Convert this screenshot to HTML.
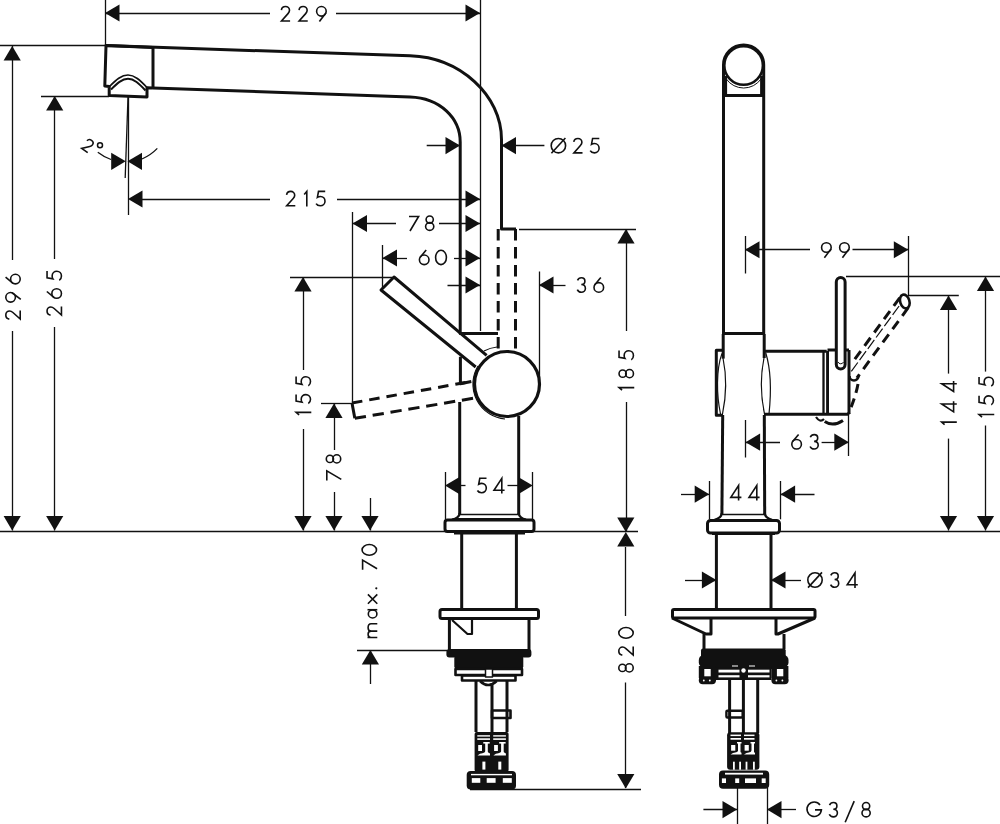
<!DOCTYPE html>
<html><head><meta charset="utf-8"><style>
html,body{margin:0;padding:0;background:#fff;}
svg{display:block;}
text{font-family:"Liberation Sans",sans-serif;}
</style></head><body>
<svg width="1000" height="824" viewBox="0 0 1000 824" stroke="#111" fill="none" stroke-linecap="butt" stroke-linejoin="round">
<rect x="0" y="0" width="1000" height="824" fill="#fff" stroke="none"/>
<line x1="105.5" y1="0" x2="105.5" y2="45.5" stroke-width="1.3"/>
<line x1="480.5" y1="0" x2="480.5" y2="331" stroke-width="1.3"/>
<line x1="105" y1="13.5" x2="270" y2="13.5" stroke-width="1.3"/>
<line x1="336" y1="13.5" x2="480" y2="13.5" stroke-width="1.3"/>
<polygon points="105.00,13.00 119.50,4.40 119.50,21.60" stroke="none" fill="#111"/>
<polygon points="480.00,13.00 465.50,4.40 465.50,21.60" stroke="none" fill="#111"/>
<g transform="translate(303.75,13.75) translate(-23.25,-8)" stroke="#111" stroke-width="1.60" fill="none" stroke-linecap="butt" stroke-linejoin="miter"><g transform="translate(0.00,0)"><path d="M0.9,4.3 C1.2,2.1 2.9,0.8 5.0,0.8 C7.3,0.8 9.0,2.5 9.0,4.6 C9.0,5.9 8.4,6.9 7.5,7.9 L1.0,15.2 L9.6,15.2"/></g><g transform="translate(17.65,0)"><path d="M0.9,4.3 C1.2,2.1 2.9,0.8 5.0,0.8 C7.3,0.8 9.0,2.5 9.0,4.6 C9.0,5.9 8.4,6.9 7.5,7.9 L1.0,15.2 L9.6,15.2"/></g><g transform="translate(35.30,0)"><circle cx="5.6" cy="5.6" r="4.8"/><path d="M10.2,7.0 L3.6,15.8"/></g></g>
<line x1="0" y1="45.5" x2="105" y2="45.5" stroke-width="1.3"/>
<line x1="12.5" y1="46" x2="12.5" y2="260" stroke-width="1.3"/>
<line x1="12.5" y1="331" x2="12.5" y2="530.5" stroke-width="1.3"/>
<polygon points="12.20,46.00 3.60,60.50 20.80,60.50" stroke="none" fill="#111"/>
<polygon points="12.20,530.50 3.60,516.00 20.80,516.00" stroke="none" fill="#111"/>
<g transform="translate(13.00,296.75) rotate(-90) translate(-23.25,-8)" stroke="#111" stroke-width="1.60" fill="none" stroke-linecap="butt" stroke-linejoin="miter"><g transform="translate(0.00,0)"><path d="M0.9,4.3 C1.2,2.1 2.9,0.8 5.0,0.8 C7.3,0.8 9.0,2.5 9.0,4.6 C9.0,5.9 8.4,6.9 7.5,7.9 L1.0,15.2 L9.6,15.2"/></g><g transform="translate(17.05,0)"><circle cx="5.6" cy="5.6" r="4.8"/><path d="M10.2,7.0 L3.6,15.8"/></g><g transform="translate(35.30,0)"><circle cx="5.6" cy="10.4" r="4.8"/><path d="M7.6,0.6 L1.4,8.0"/></g></g>
<line x1="41" y1="96.5" x2="109" y2="96.5" stroke-width="1.3"/>
<line x1="54.5" y1="96" x2="54.5" y2="259" stroke-width="1.3"/>
<line x1="54.5" y1="327" x2="54.5" y2="530.5" stroke-width="1.3"/>
<polygon points="54.70,96.00 46.10,110.50 63.30,110.50" stroke="none" fill="#111"/>
<polygon points="54.70,530.50 46.10,516.00 63.30,516.00" stroke="none" fill="#111"/>
<g transform="translate(54.25,293.25) rotate(-90) translate(-22.75,-8)" stroke="#111" stroke-width="1.60" fill="none" stroke-linecap="butt" stroke-linejoin="miter"><g transform="translate(0.00,0)"><path d="M0.9,4.3 C1.2,2.1 2.9,0.8 5.0,0.8 C7.3,0.8 9.0,2.5 9.0,4.6 C9.0,5.9 8.4,6.9 7.5,7.9 L1.0,15.2 L9.6,15.2"/></g><g transform="translate(16.90,0)"><circle cx="5.6" cy="10.4" r="4.8"/><path d="M7.6,0.6 L1.4,8.0"/></g><g transform="translate(35.00,0)"><path d="M9.9,0.8 L3.2,0.8 L2.1,6.7 C2.9,6.2 4.0,5.9 5.1,5.9 C7.9,5.9 9.7,8.0 9.7,10.6 C9.7,13.2 7.7,15.2 5.0,15.2 C3.1,15.2 1.6,14.4 0.8,13.0"/></g></g>
<line x1="0" y1="531.5" x2="638" y2="531.5" stroke-width="1.3"/>
<polyline points="153,47.5 106,45.6 104.8,86 109.2,86.5 109.2,95.5 147,97 147,87.8 153,88" stroke-width="3.0" fill="none" />
<path d="M106,45.6 L410,55.8 C460,57.5 501.5,95 501.5,139.5 L501.5,229 L516,229" stroke-width="3.0" fill="none" />
<path d="M153,88 L410,97 C440,98 460.2,118 460.2,142 L460.2,333.5 L498,333.5" stroke-width="3.0" fill="none" />
<line x1="153" y1="47.5" x2="153" y2="88" stroke-width="3.0"/>
<path d="M109.5,86.5 C116,80 121.5,75 128,75 C134.5,75 140,80 147,87.5" stroke-width="1.7" fill="none" />
<path d="M111,89.5 C117,83.5 122,78.8 128,78.8 C134,78.8 139,83.5 145.5,90.5" stroke-width="2.0" fill="none" />
<line x1="128.5" y1="97" x2="128.5" y2="215" stroke-width="1.3"/>
<line x1="128" y1="97" x2="125.2" y2="178" stroke-width="1.3"/>
<polygon points="125.70,161.30 111.20,152.70 111.20,169.90" stroke="none" fill="#111"/>
<polygon points="127.50,161.30 142.00,152.70 142.00,169.90" stroke="none" fill="#111"/>
<path d="M97.8,152.2 Q104,157 111,159.5" stroke-width="1.3" fill="none" />
<path d="M142,159 Q151,155 157.3,148.4" stroke-width="1.3" fill="none" />
<g transform="translate(88.00,145.30) rotate(35) scale(0.85) translate(-5.00,-8)" stroke="#111" stroke-width="1.88" fill="none" stroke-linecap="butt" stroke-linejoin="miter"><g transform="translate(0.00,0)"><path d="M0.9,4.3 C1.2,2.1 2.9,0.8 5.0,0.8 C7.3,0.8 9.0,2.5 9.0,4.6 C9.0,5.9 8.4,6.9 7.5,7.9 L1.0,15.2 L9.6,15.2"/></g></g>
<circle cx="100" cy="145.3" r="2.5" stroke-width="1.5" fill="none"/>
<line x1="142" y1="199.5" x2="270" y2="199.5" stroke-width="1.3"/>
<line x1="337" y1="199.5" x2="480" y2="199.5" stroke-width="1.3"/>
<polygon points="128.00,199.00 142.50,190.40 142.50,207.60" stroke="none" fill="#111"/>
<polygon points="480.00,199.00 465.50,190.40 465.50,207.60" stroke="none" fill="#111"/>
<g transform="translate(305.75,198.60) translate(-20.05,-8)" stroke="#111" stroke-width="1.60" fill="none" stroke-linecap="butt" stroke-linejoin="miter"><g transform="translate(0.00,0)"><path d="M0.9,4.3 C1.2,2.1 2.9,0.8 5.0,0.8 C7.3,0.8 9.0,2.5 9.0,4.6 C9.0,5.9 8.4,6.9 7.5,7.9 L1.0,15.2 L9.6,15.2"/></g><g transform="translate(17.70,0)"><path d="M0.8,3.8 L3.4,0.8 L3.4,16"/></g><g transform="translate(29.60,0)"><path d="M9.9,0.8 L3.2,0.8 L2.1,6.7 C2.9,6.2 4.0,5.9 5.1,5.9 C7.9,5.9 9.7,8.0 9.7,10.6 C9.7,13.2 7.7,15.2 5.0,15.2 C3.1,15.2 1.6,14.4 0.8,13.0"/></g></g>
<line x1="426.7" y1="145.5" x2="460" y2="145.5" stroke-width="1.3"/>
<polygon points="460.00,145.60 445.50,137.00 445.50,154.20" stroke="none" fill="#111"/>
<line x1="501.5" y1="145.5" x2="544.4" y2="145.5" stroke-width="1.3"/>
<polygon points="501.50,145.60 516.00,137.00 516.00,154.20" stroke="none" fill="#111"/>
<g transform="translate(575.15,145.65) translate(-24.75,-8)" stroke="#111" stroke-width="1.60" fill="none" stroke-linecap="butt" stroke-linejoin="miter"><g transform="translate(0.00,0)"><circle cx="8" cy="8" r="7.2"/><path d="M1.0,15.6 L15.0,0.4"/></g><g transform="translate(22.50,0)"><path d="M0.9,4.3 C1.2,2.1 2.9,0.8 5.0,0.8 C7.3,0.8 9.0,2.5 9.0,4.6 C9.0,5.9 8.4,6.9 7.5,7.9 L1.0,15.2 L9.6,15.2"/></g><g transform="translate(39.00,0)"><path d="M9.9,0.8 L3.2,0.8 L2.1,6.7 C2.9,6.2 4.0,5.9 5.1,5.9 C7.9,5.9 9.7,8.0 9.7,10.6 C9.7,13.2 7.7,15.2 5.0,15.2 C3.1,15.2 1.6,14.4 0.8,13.0"/></g></g>
<line x1="352.5" y1="212" x2="352.5" y2="403.5" stroke-width="1.3"/>
<line x1="352.5" y1="223.5" x2="396" y2="223.5" stroke-width="1.3"/>
<line x1="439" y1="223.5" x2="480" y2="223.5" stroke-width="1.3"/>
<polygon points="352.50,223.50 367.00,214.90 367.00,232.10" stroke="none" fill="#111"/>
<polygon points="480.00,223.50 465.50,214.90 465.50,232.10" stroke="none" fill="#111"/>
<g transform="translate(421.50,223.20) translate(-13.10,-8)" stroke="#111" stroke-width="1.60" fill="none" stroke-linecap="butt" stroke-linejoin="miter"><g transform="translate(0.00,0)"><path d="M0.6,1.3 L10.2,1.3 L1.6,15.8"/></g><g transform="translate(16.40,0)"><circle cx="4.9" cy="4.4" r="3.6"/><ellipse cx="4.9" cy="11.3" rx="4.1" ry="3.9"/></g></g>
<line x1="382.5" y1="245" x2="382.5" y2="288" stroke-width="1.3"/>
<line x1="382.5" y1="258.5" x2="407" y2="258.5" stroke-width="1.3"/>
<line x1="454" y1="258.5" x2="480" y2="258.5" stroke-width="1.3"/>
<polygon points="382.50,258.00 397.00,249.40 397.00,266.60" stroke="none" fill="#111"/>
<polygon points="480.00,258.00 465.50,249.40 465.50,266.60" stroke="none" fill="#111"/>
<g transform="translate(432.90,257.45) translate(-14.30,-8)" stroke="#111" stroke-width="1.60" fill="none" stroke-linecap="butt" stroke-linejoin="miter"><g transform="translate(0.00,0)"><circle cx="5.6" cy="10.4" r="4.8"/><path d="M7.6,0.6 L1.4,8.0"/></g><g transform="translate(16.20,0)"><ellipse cx="6.2" cy="8" rx="5.4" ry="7.2"/></g></g>
<line x1="447.5" y1="285.5" x2="480" y2="285.5" stroke-width="1.3"/>
<polygon points="480.00,285.00 465.50,276.40 465.50,293.60" stroke="none" fill="#111"/>
<line x1="539.5" y1="271.5" x2="539.5" y2="381" stroke-width="1.3"/>
<line x1="539" y1="285.5" x2="565.5" y2="285.5" stroke-width="1.3"/>
<polygon points="539.00,285.00 553.50,276.40 553.50,293.60" stroke="none" fill="#111"/>
<g transform="translate(590.50,285.00) translate(-13.90,-8)" stroke="#111" stroke-width="1.60" fill="none" stroke-linecap="butt" stroke-linejoin="miter"><g transform="translate(0.00,0)"><path d="M0.9,3.4 C1.6,1.8 3.0,0.8 4.8,0.8 C6.9,0.8 8.3,2.2 8.3,4.2 C8.3,6.2 6.8,7.5 4.7,7.5 C7.2,7.5 8.8,9.3 8.8,11.4 C8.8,13.6 7.0,15.2 4.7,15.2 C2.9,15.2 1.4,14.3 0.7,12.6"/></g><g transform="translate(16.60,0)"><circle cx="5.6" cy="10.4" r="4.8"/><path d="M7.6,0.6 L1.4,8.0"/></g></g>
<line x1="519" y1="229.5" x2="636" y2="229.5" stroke-width="1.3"/>
<line x1="626.5" y1="229" x2="626.5" y2="331" stroke-width="1.3"/>
<line x1="626.5" y1="402" x2="626.5" y2="531" stroke-width="1.3"/>
<polygon points="626.00,229.00 617.40,243.50 634.60,243.50" stroke="none" fill="#111"/>
<polygon points="625.80,532.00 617.20,517.50 634.40,517.50" stroke="none" fill="#111"/>
<g transform="translate(626.25,370.50) rotate(-90) translate(-20.50,-8)" stroke="#111" stroke-width="1.60" fill="none" stroke-linecap="butt" stroke-linejoin="miter"><g transform="translate(0.00,0)"><path d="M0.8,3.8 L3.4,0.8 L3.4,16"/></g><g transform="translate(12.45,0)"><circle cx="4.9" cy="4.4" r="3.6"/><ellipse cx="4.9" cy="11.3" rx="4.1" ry="3.9"/></g><g transform="translate(30.50,0)"><path d="M9.9,0.8 L3.2,0.8 L2.1,6.7 C2.9,6.2 4.0,5.9 5.1,5.9 C7.9,5.9 9.7,8.0 9.7,10.6 C9.7,13.2 7.7,15.2 5.0,15.2 C3.1,15.2 1.6,14.4 0.8,13.0"/></g></g>
<line x1="625.5" y1="547" x2="625.5" y2="616" stroke-width="1.3"/>
<line x1="625.5" y1="682.5" x2="625.5" y2="788" stroke-width="1.3"/>
<polygon points="625.80,532.00 617.20,546.50 634.40,546.50" stroke="none" fill="#111"/>
<polygon points="625.80,788.50 617.20,774.00 634.40,774.00" stroke="none" fill="#111"/>
<line x1="470" y1="789.5" x2="641" y2="789.5" stroke-width="1.3"/>
<g transform="translate(626.00,649.75) rotate(-90) translate(-23.05,-8)" stroke="#111" stroke-width="1.60" fill="none" stroke-linecap="butt" stroke-linejoin="miter"><g transform="translate(0.00,0)"><circle cx="4.9" cy="4.4" r="3.6"/><ellipse cx="4.9" cy="11.3" rx="4.1" ry="3.9"/></g><g transform="translate(16.75,0)"><path d="M0.9,4.3 C1.2,2.1 2.9,0.8 5.0,0.8 C7.3,0.8 9.0,2.5 9.0,4.6 C9.0,5.9 8.4,6.9 7.5,7.9 L1.0,15.2 L9.6,15.2"/></g><g transform="translate(33.70,0)"><ellipse cx="6.2" cy="8" rx="5.4" ry="7.2"/></g></g>
<line x1="290" y1="277.5" x2="392" y2="277.5" stroke-width="1.3"/>
<line x1="303.5" y1="277" x2="303.5" y2="370" stroke-width="1.3"/>
<line x1="303.5" y1="429" x2="303.5" y2="530.5" stroke-width="1.3"/>
<polygon points="303.00,277.00 294.40,291.50 311.60,291.50" stroke="none" fill="#111"/>
<polygon points="303.00,530.50 294.40,516.00 311.60,516.00" stroke="none" fill="#111"/>
<g transform="translate(303.30,395.90) rotate(-90) translate(-19.90,-8)" stroke="#111" stroke-width="1.60" fill="none" stroke-linecap="butt" stroke-linejoin="miter"><g transform="translate(0.00,0)"><path d="M0.8,3.8 L3.4,0.8 L3.4,16"/></g><g transform="translate(11.50,0)"><path d="M9.9,0.8 L3.2,0.8 L2.1,6.7 C2.9,6.2 4.0,5.9 5.1,5.9 C7.9,5.9 9.7,8.0 9.7,10.6 C9.7,13.2 7.7,15.2 5.0,15.2 C3.1,15.2 1.6,14.4 0.8,13.0"/></g><g transform="translate(29.30,0)"><path d="M9.9,0.8 L3.2,0.8 L2.1,6.7 C2.9,6.2 4.0,5.9 5.1,5.9 C7.9,5.9 9.7,8.0 9.7,10.6 C9.7,13.2 7.7,15.2 5.0,15.2 C3.1,15.2 1.6,14.4 0.8,13.0"/></g></g>
<line x1="321" y1="403.5" x2="352" y2="403.5" stroke-width="1.3"/>
<line x1="334.5" y1="403.6" x2="334.5" y2="450" stroke-width="1.3"/>
<line x1="334.5" y1="492" x2="334.5" y2="530.5" stroke-width="1.3"/>
<polygon points="334.00,403.60 325.40,418.10 342.60,418.10" stroke="none" fill="#111"/>
<polygon points="334.00,530.50 325.40,516.00 342.60,516.00" stroke="none" fill="#111"/>
<g transform="translate(333.50,467.50) rotate(-90) translate(-13.50,-8)" stroke="#111" stroke-width="1.60" fill="none" stroke-linecap="butt" stroke-linejoin="miter"><g transform="translate(0.00,0)"><path d="M0.6,1.3 L10.2,1.3 L1.6,15.8"/></g><g transform="translate(17.20,0)"><circle cx="4.9" cy="4.4" r="3.6"/><ellipse cx="4.9" cy="11.3" rx="4.1" ry="3.9"/></g></g>
<line x1="370.5" y1="498" x2="370.5" y2="530.5" stroke-width="1.3"/>
<polygon points="370.00,530.50 361.40,516.00 378.60,516.00" stroke="none" fill="#111"/>
<line x1="357" y1="650.5" x2="447" y2="650.5" stroke-width="1.3"/>
<line x1="370.5" y1="650" x2="370.5" y2="684" stroke-width="1.3"/>
<polygon points="370.40,650.00 361.80,664.50 379.00,664.50" stroke="none" fill="#111"/>
<g transform="translate(369.30,612.75) rotate(-90) translate(-25.55,-8)" stroke="#111" stroke-width="1.60" fill="none" stroke-linecap="butt" stroke-linejoin="miter"><g transform="translate(0.00,0)"><path d="M0.8,16 L0.8,6.2 M0.8,9.6 C0.8,7.5 2.1,6.8 4.0,6.8 C5.9,6.8 7.2,7.8 7.2,9.8 L7.2,16 M7.2,9.8 C7.2,7.5 8.6,6.8 10.6,6.8 C12.7,6.8 14.6,7.8 14.6,9.8 L14.6,16"/></g><g transform="translate(19.57,0)"><ellipse cx="4.8" cy="11.3" rx="4.0" ry="4.3"/><path d="M9.0,6.2 L9.0,16"/></g><g transform="translate(33.73,0)"><path d="M0.8,6.6 L10.2,16 M10.2,6.6 L0.8,16"/></g><g transform="translate(48.90,0)"><circle cx="1.1" cy="15" r="1.1" fill="#111" stroke="none"/></g></g>
<g transform="translate(369.30,557.00) rotate(-90) translate(-13.30,-8)" stroke="#111" stroke-width="1.60" fill="none" stroke-linecap="butt" stroke-linejoin="miter"><g transform="translate(0.00,0)"><path d="M0.6,1.3 L10.2,1.3 L1.6,15.8"/></g><g transform="translate(14.20,0)"><ellipse cx="6.2" cy="8" rx="5.4" ry="7.2"/></g></g>
<polyline points="486.6,355.3 394,277 381,290 475.7,367" stroke-width="3.0" fill="none" />
<polyline points="460.4,356.8 460.4,383.7 471.3,381.5" stroke-width="3.0" fill="none" />
<path d="M352,403 L472.4,381.2" stroke-width="3.0" fill="none" stroke-dasharray="10.5,7"/>
<path d="M352,403 L354.8,418.3" stroke-width="3.0" fill="none" />
<path d="M354.8,418.3 L475,398" stroke-width="3.0" fill="none" stroke-dasharray="11.3,6.8"/>
<circle cx="507" cy="384" r="32.5" stroke-width="3.2" fill="none"/>
<path d="M484,351 A35,35 0 0 1 497,347" stroke-width="1.2" fill="none" />
<path d="M478,366 A35,35 0 0 0 505,419" stroke-width="1.2" fill="none" />
<path d="M498.2,229 L498.2,350.5" stroke-width="3.0" fill="none" stroke-dasharray="11.4,6.6"/>
<path d="M515.5,229 L515.5,350.5" stroke-width="3.0" fill="none" stroke-dasharray="11.4,6.6"/>
<line x1="459.7" y1="402" x2="459.7" y2="514" stroke-width="3.0"/>
<line x1="518.7" y1="416" x2="518.7" y2="514" stroke-width="3.0"/>
<line x1="445.5" y1="472" x2="445.5" y2="519" stroke-width="1.3"/>
<line x1="532.5" y1="472" x2="532.5" y2="519" stroke-width="1.3"/>
<polygon points="445.00,485.60 459.50,477.00 459.50,494.20" stroke="none" fill="#111"/>
<polygon points="532.70,485.60 518.20,477.00 518.20,494.20" stroke="none" fill="#111"/>
<line x1="460" y1="485.5" x2="465.5" y2="485.5" stroke-width="1.3"/>
<line x1="507.5" y1="485.5" x2="519" y2="485.5" stroke-width="1.3"/>
<g transform="translate(490.70,485.50) translate(-14.10,-8)" stroke="#111" stroke-width="1.60" fill="none" stroke-linecap="butt" stroke-linejoin="miter"><g transform="translate(0.00,0)"><path d="M9.9,0.8 L3.2,0.8 L2.1,6.7 C2.9,6.2 4.0,5.9 5.1,5.9 C7.9,5.9 9.7,8.0 9.7,10.6 C9.7,13.2 7.7,15.2 5.0,15.2 C3.1,15.2 1.6,14.4 0.8,13.0"/></g><g transform="translate(16.60,0)"><path d="M8.6,16 L8.6,0.9 L0.8,12.8 L11.4,12.8"/></g></g>
<line x1="460" y1="514.5" x2="519" y2="514.5" stroke-width="1.3"/>
<path d="M459.7,513 Q459.2,518 452,519.6" stroke-width="2.4" fill="none" />
<path d="M518.7,513 Q519.2,518 526,519.6" stroke-width="2.4" fill="none" />
<path d="M455,519.5 L522,519.5" stroke-width="3.0" fill="none" />
<rect x="445" y="520" width="89" height="11.5" rx="2.5" stroke-width="3" fill="none"/>
<path d="M454,533 L525,533" stroke-width="3.0" fill="none" />
<line x1="461.7" y1="533" x2="461.7" y2="608" stroke-width="3.0"/>
<line x1="516.4" y1="533" x2="516.4" y2="608" stroke-width="3.0"/>
<rect x="440" y="609.5" width="98.5" height="9" rx="2" stroke-width="3" fill="none"/>
<polyline points="449.4,618 449.4,650" stroke-width="3.0" fill="none" />
<polyline points="529,618 529,650" stroke-width="3.0" fill="none" />
<polyline points="452,620 467.5,634 472,634 472,619.5" stroke-width="2.2" fill="none" />
<rect x="446.4" y="649" width="85" height="8.5" rx="3" fill="#111" stroke="none"/>
<rect x="454.3" y="656" width="69" height="12.5" rx="2" fill="#111" stroke="none"/>
<rect x="455.5" y="669" width="66.5" height="6" stroke-width="2.6" fill="none"/>
<rect x="462" y="675.5" width="53.5" height="5" stroke-width="2.6" fill="none"/>
<rect x="485.5" y="669" width="7" height="8" fill="#fff" stroke="#111" stroke-width="1.5"/>
<path d="M480,681 Q488,689 496.7,681" stroke-width="2.6" fill="none" />
<line x1="476" y1="681" x2="476" y2="732" stroke-width="3.0"/>
<line x1="492" y1="683" x2="492" y2="732" stroke-width="3.0"/>
<line x1="507" y1="681" x2="507" y2="732" stroke-width="3.0"/>
<rect x="492" y="710.5" width="18.5" height="7.5" stroke-width="2.6" fill="none"/>
<rect x="474.6" y="732" width="34" height="40" rx="2" fill="#111" stroke="none"/>
<rect x="477.30" y="735.2" width="12.7" height="1.4" fill="#fff" stroke="none"/>
<rect x="477.30" y="738.3" width="12.7" height="1.6" fill="#fff" stroke="none"/>
<rect x="478.20" y="745" width="3.8" height="6" fill="#fff" stroke="none"/>
<rect x="483.30" y="742" width="6.4" height="1.6" fill="#fff" stroke="none"/>
<rect x="485.20" y="742" width="2.6" height="13" fill="#fff" stroke="none"/>
<path d="M477.50,755.5 L490.00,755.5 L490.00,753.6 Q487.00,753 486.50,750 Q485.50,753 480.00,753.8 Z" fill="#fff" stroke="none"/>
<rect x="482.40" y="761.6" width="3" height="8" fill="#fff" stroke="none"/>
<rect x="493.20" y="735.2" width="12.7" height="1.4" fill="#fff" stroke="none"/>
<rect x="493.20" y="738.3" width="12.7" height="1.6" fill="#fff" stroke="none"/>
<rect x="494.10" y="745" width="3.8" height="6" fill="#fff" stroke="none"/>
<rect x="499.20" y="742" width="6.4" height="1.6" fill="#fff" stroke="none"/>
<rect x="501.10" y="742" width="2.6" height="13" fill="#fff" stroke="none"/>
<path d="M493.40,755.5 L505.90,755.5 L505.90,753.6 Q502.90,753 502.40,750 Q501.40,753 495.90,753.8 Z" fill="#fff" stroke="none"/>
<rect x="498.30" y="761.6" width="3" height="8" fill="#fff" stroke="none"/>
<rect x="466.7" y="771" width="49.3" height="18.6" rx="4" fill="#111" stroke="none"/>
<rect x="471" y="773.9" width="41" height="1.4" fill="#fff" stroke="none"/>
<rect x="471.8" y="778.1" width="8.5" height="4.7" fill="#fff" stroke="none"/>
<rect x="486.7" y="778.1" width="8.9" height="4.7" fill="#fff" stroke="none"/>
<rect x="502.8" y="778.1" width="9" height="4.7" fill="#fff" stroke="none"/>
<path d="M723.5,334 L723.5,65 A20.1,20.1 0 0 1 763.7,65 L763.7,334" stroke-width="3" fill="none"/>
<circle cx="743.6" cy="65.5" r="19.3" stroke-width="2.6" fill="none"/>
<path d="M726.3,79 A21.2,21.2 0 0 0 761,79" stroke-width="1.0" fill="none" />
<line x1="724.8" y1="76" x2="724.8" y2="95" stroke-width="4.6"/>
<line x1="762.4" y1="76" x2="762.4" y2="95" stroke-width="4.6"/>
<line x1="724" y1="95.5" x2="763" y2="95.5" stroke-width="3.0"/>
<line x1="724" y1="333.5" x2="763" y2="333.5" stroke-width="3.0"/>
<line x1="723.2" y1="334" x2="723.2" y2="358.6" stroke-width="3.0"/>
<line x1="764.2" y1="334" x2="764.2" y2="358" stroke-width="3.0"/>
<path d="M722,353.4 C716,370 716.5,395 720.5,414" stroke-width="1.2" fill="none" />
<path d="M723,358 C726.5,375 726.5,395 722.5,414" stroke-width="1.2" fill="none" />
<path d="M764,358 C760.5,375 760.5,395 764.5,414" stroke-width="1.2" fill="none" />
<path d="M765.8,353 C771,370 771,395 769,414" stroke-width="1.2" fill="none" />
<polyline points="723,350.3 716.3,350.3 716.3,415.3 723,415.3" stroke-width="3.0" fill="none" />
<line x1="764" y1="351.3" x2="826.7" y2="351.3" stroke-width="3.0"/>
<line x1="764" y1="414.2" x2="848" y2="414.2" stroke-width="3.0"/>
<line x1="823.5" y1="351" x2="823.5" y2="414" stroke-width="2.3"/>
<line x1="826.5" y1="351" x2="826.5" y2="414" stroke-width="0.9"/>
<line x1="828" y1="351" x2="828" y2="414" stroke-width="2.0"/>
<line x1="827.5" y1="350" x2="849" y2="350" stroke-width="3.0"/>
<line x1="849" y1="350" x2="849" y2="414" stroke-width="3.0"/>
<line x1="722.7" y1="415" x2="721.9" y2="515" stroke-width="3.0"/>
<line x1="764.3" y1="415" x2="764.7" y2="515" stroke-width="3.0"/>
<line x1="723" y1="514.5" x2="764" y2="514.5" stroke-width="1.3"/>
<path d="M721.9,513 Q721.5,518 714.5,519.8" stroke-width="2.4" fill="none" />
<path d="M764.7,513 Q765.1,518 772,519.8" stroke-width="2.4" fill="none" />
<rect x="707.5" y="520.5" width="72" height="12.5" rx="3" stroke-width="3" fill="none"/>
<path d="M712,533.8 L775,533.8" stroke-width="2.2" fill="none" />
<line x1="780" y1="531.5" x2="1000" y2="531.5" stroke-width="1.3"/>
<line x1="716.4" y1="534" x2="716.4" y2="609" stroke-width="3.0"/>
<line x1="771" y1="534" x2="771" y2="609" stroke-width="3.0"/>
<rect x="672.5" y="609.5" width="142.5" height="8.5" rx="1.5" stroke-width="3" fill="none"/>
<polyline points="672,618 706,634 711,634 711,618" stroke-width="3.0" fill="none" />
<polyline points="815,618 778,634 776,634 776,618" stroke-width="3.0" fill="none" />
<line x1="704" y1="634" x2="704" y2="649" stroke-width="3.0"/>
<line x1="784" y1="634" x2="784" y2="649" stroke-width="3.0"/>
<rect x="701" y="648.5" width="84.7" height="20.5" rx="2" fill="#111" stroke="none"/>
<rect x="698.8" y="655" width="89.7" height="12.5" rx="5" fill="#111" stroke="none"/>
<rect x="698.8" y="666" width="17" height="12" fill="#111" stroke="none"/>
<rect x="698.8" y="676" width="17.2" height="8.2" rx="4" fill="#111" stroke="none"/>
<rect x="704.3" y="669" width="6.4" height="7.3" fill="#fff" stroke="none"/>
<circle cx="703.8" cy="680.5" r="0.9" fill="#fff" stroke="none"/>
<circle cx="709.8" cy="680.5" r="0.9" fill="#fff" stroke="none"/>
<rect x="771.4" y="666" width="17" height="12" fill="#111" stroke="none"/>
<rect x="771.4" y="676" width="17.2" height="8.2" rx="4" fill="#111" stroke="none"/>
<rect x="776.9" y="669" width="6.4" height="7.3" fill="#fff" stroke="none"/>
<circle cx="776.4" cy="680.5" r="0.9" fill="#fff" stroke="none"/>
<circle cx="782.4" cy="680.5" r="0.9" fill="#fff" stroke="none"/>
<rect x="715" y="668" width="56.5" height="12" fill="#111" stroke="none"/>
<rect x="718.5" y="669.7" width="21" height="2.8" fill="#fff" stroke="none"/>
<rect x="718.5" y="675.2" width="21" height="2.2" fill="#fff" stroke="none"/>
<rect x="748" y="669.7" width="21.5" height="2.8" fill="#fff" stroke="none"/>
<rect x="748" y="675.2" width="21.5" height="2.2" fill="#fff" stroke="none"/>
<circle cx="743.5" cy="670.5" r="2.2" fill="#fff" stroke="none"/>
<rect x="732" y="665.5" width="6" height="1" fill="#fff" stroke="none"/>
<rect x="749" y="665.5" width="6" height="1" fill="#fff" stroke="none"/>
<line x1="729.6" y1="679" x2="729.6" y2="733" stroke-width="3.0"/>
<line x1="743.4" y1="679" x2="743.4" y2="733" stroke-width="3.0"/>
<line x1="757.7" y1="679" x2="757.7" y2="733" stroke-width="3.0"/>
<rect x="726.4" y="710.8" width="16.3" height="6.7" rx="1" stroke-width="2.4" fill="none"/>
<rect x="727.1" y="732.3" width="32.3" height="37.5" rx="3" fill="#111" stroke="none"/>
<rect x="730.50" y="734.6" width="10.5" height="1.5" fill="#fff" stroke="none"/>
<rect x="730.50" y="738" width="10.5" height="1.7" fill="#fff" stroke="none"/>
<rect x="731.10" y="745" width="4.2" height="5.7" fill="#fff" stroke="none"/>
<rect x="737.00" y="742" width="4.5" height="1.5" fill="#fff" stroke="none"/>
<rect x="738.00" y="742" width="2.5" height="12" fill="#fff" stroke="none"/>
<path d="M730.50,754.5 L741.50,754.5 L741.50,752.8 Q739.50,752.5 739.00,749.5 Q738.00,752.5 733.00,753 Z" fill="#fff" stroke="none"/>
<rect x="744.00" y="734.6" width="10.5" height="1.5" fill="#fff" stroke="none"/>
<rect x="744.00" y="738" width="10.5" height="1.7" fill="#fff" stroke="none"/>
<rect x="744.60" y="745" width="4.2" height="5.7" fill="#fff" stroke="none"/>
<rect x="750.50" y="742" width="4.5" height="1.5" fill="#fff" stroke="none"/>
<rect x="751.50" y="742" width="2.5" height="12" fill="#fff" stroke="none"/>
<path d="M744.00,754.5 L755.00,754.5 L755.00,752.8 Q753.00,752.5 752.50,749.5 Q751.50,752.5 746.50,753 Z" fill="#fff" stroke="none"/>
<rect x="733" y="761.7" width="1.8" height="8" fill="#fff" stroke="none"/>
<rect x="739.2" y="761.7" width="1.8" height="8" fill="#fff" stroke="none"/>
<rect x="745.6" y="761.7" width="1.8" height="8" fill="#fff" stroke="none"/>
<rect x="753" y="761.7" width="1.8" height="8" fill="#fff" stroke="none"/>
<rect x="719" y="770.4" width="50.2" height="18.4" rx="4" fill="#111" stroke="none"/>
<rect x="725" y="772.8" width="38" height="1.8" fill="#fff" stroke="none"/>
<rect x="721.9" y="778.4" width="4.1" height="4.6" fill="#fff" stroke="none"/>
<rect x="735.2" y="778.4" width="4" height="4.6" fill="#fff" stroke="none"/>
<rect x="745" y="778.4" width="11" height="4.6" fill="#fff" stroke="none"/>
<rect x="761.7" y="778.4" width="4" height="4.6" fill="#fff" stroke="none"/>
<line x1="737.5" y1="788" x2="737.5" y2="824" stroke-width="1.3"/>
<line x1="767.5" y1="788" x2="767.5" y2="824" stroke-width="1.3"/>
<line x1="703.4" y1="809.5" x2="737" y2="809.5" stroke-width="1.3"/>
<polygon points="737.00,809.60 722.50,801.00 722.50,818.20" stroke="none" fill="#111"/>
<line x1="767" y1="809.5" x2="796" y2="809.5" stroke-width="1.3"/>
<polygon points="767.00,809.60 781.50,801.00 781.50,818.20" stroke="none" fill="#111"/>
<g transform="translate(838.40,809.70) translate(-32.60,-8)" stroke="#111" stroke-width="1.60" fill="none" stroke-linecap="butt" stroke-linejoin="miter"><g transform="translate(0.00,0)"><path d="M14.2,3.2 A7.2,7.2 0 1 0 15.6,8.2 L9.2,8.2"/></g><g transform="translate(22.80,0)"><path d="M0.9,3.4 C1.6,1.8 3.0,0.8 4.8,0.8 C6.9,0.8 8.3,2.2 8.3,4.2 C8.3,6.2 6.8,7.5 4.7,7.5 C7.2,7.5 8.8,9.3 8.8,11.4 C8.8,13.6 7.0,15.2 4.7,15.2 C2.9,15.2 1.4,14.3 0.7,12.6"/></g><g transform="translate(38.40,0)"><path d="M1.0,20.6 L10.0,-0.6"/></g><g transform="translate(55.40,0)"><circle cx="4.9" cy="4.4" r="3.6"/><ellipse cx="4.9" cy="11.3" rx="4.1" ry="3.9"/></g></g>
<line x1="685" y1="580.5" x2="716" y2="580.5" stroke-width="1.3"/>
<polygon points="716.40,580.00 701.90,571.40 701.90,588.60" stroke="none" fill="#111"/>
<line x1="771" y1="580.5" x2="801" y2="580.5" stroke-width="1.3"/>
<polygon points="771.00,580.00 785.50,571.40 785.50,588.60" stroke="none" fill="#111"/>
<g transform="translate(832.50,580.00) translate(-25.50,-8)" stroke="#111" stroke-width="1.60" fill="none" stroke-linecap="butt" stroke-linejoin="miter"><g transform="translate(0.00,0)"><circle cx="8" cy="8" r="7.2"/><path d="M1.0,15.6 L15.0,0.4"/></g><g transform="translate(22.90,0)"><path d="M0.9,3.4 C1.6,1.8 3.0,0.8 4.8,0.8 C6.9,0.8 8.3,2.2 8.3,4.2 C8.3,6.2 6.8,7.5 4.7,7.5 C7.2,7.5 8.8,9.3 8.8,11.4 C8.8,13.6 7.0,15.2 4.7,15.2 C2.9,15.2 1.4,14.3 0.7,12.6"/></g><g transform="translate(39.40,0)"><path d="M8.6,16 L8.6,0.9 L0.8,12.8 L11.4,12.8"/></g></g>
<line x1="709.5" y1="481" x2="709.5" y2="519.3" stroke-width="1.3"/>
<line x1="780.5" y1="481" x2="780.5" y2="519.3" stroke-width="1.3"/>
<line x1="681" y1="494.5" x2="709" y2="494.5" stroke-width="1.3"/>
<polygon points="709.20,494.20 694.70,485.60 694.70,502.80" stroke="none" fill="#111"/>
<line x1="780.6" y1="494.5" x2="814.5" y2="494.5" stroke-width="1.3"/>
<polygon points="780.60,494.20 795.10,485.60 795.10,502.80" stroke="none" fill="#111"/>
<g transform="translate(744.90,492.60) translate(-14.90,-8)" stroke="#111" stroke-width="1.60" fill="none" stroke-linecap="butt" stroke-linejoin="miter"><g transform="translate(0.00,0)"><path d="M8.6,16 L8.6,0.9 L0.8,12.8 L11.4,12.8"/></g><g transform="translate(18.20,0)"><path d="M8.6,16 L8.6,0.9 L0.8,12.8 L11.4,12.8"/></g></g>
<line x1="745.5" y1="420" x2="745.5" y2="457.5" stroke-width="1.3"/>
<line x1="848.5" y1="414" x2="848.5" y2="456" stroke-width="1.3"/>
<line x1="745.6" y1="442.5" x2="780" y2="442.5" stroke-width="1.3"/>
<polygon points="745.60,442.20 760.10,433.60 760.10,450.80" stroke="none" fill="#111"/>
<line x1="821.6" y1="442.5" x2="848.8" y2="442.5" stroke-width="1.3"/>
<polygon points="848.80,442.20 834.30,433.60 834.30,450.80" stroke="none" fill="#111"/>
<g transform="translate(805.00,441.85) translate(-14.00,-8)" stroke="#111" stroke-width="1.60" fill="none" stroke-linecap="butt" stroke-linejoin="miter"><g transform="translate(0.00,0)"><circle cx="5.6" cy="10.4" r="4.8"/><path d="M7.6,0.6 L1.4,8.0"/></g><g transform="translate(18.40,0)"><path d="M0.9,3.4 C1.6,1.8 3.0,0.8 4.8,0.8 C6.9,0.8 8.3,2.2 8.3,4.2 C8.3,6.2 6.8,7.5 4.7,7.5 C7.2,7.5 8.8,9.3 8.8,11.4 C8.8,13.6 7.0,15.2 4.7,15.2 C2.9,15.2 1.4,14.3 0.7,12.6"/></g></g>
<line x1="745.5" y1="236" x2="745.5" y2="273.5" stroke-width="1.3"/>
<line x1="908.5" y1="236" x2="908.5" y2="296" stroke-width="1.3"/>
<line x1="745" y1="249.5" x2="810" y2="249.5" stroke-width="1.3"/>
<polygon points="745.00,249.75 759.50,241.15 759.50,258.35" stroke="none" fill="#111"/>
<line x1="852.5" y1="249.5" x2="908.3" y2="249.5" stroke-width="1.3"/>
<polygon points="908.30,249.75 893.80,241.15 893.80,258.35" stroke="none" fill="#111"/>
<g transform="translate(835.40,249.90) translate(-14.62,-8)" stroke="#111" stroke-width="1.60" fill="none" stroke-linecap="butt" stroke-linejoin="miter"><g transform="translate(0.00,0)"><circle cx="5.6" cy="5.6" r="4.8"/><path d="M10.2,7.0 L3.6,15.8"/></g><g transform="translate(18.05,0)"><circle cx="5.6" cy="5.6" r="4.8"/><path d="M10.2,7.0 L3.6,15.8"/></g></g>
<rect x="836.3" y="277.5" width="8.8" height="91.5" rx="4.4" stroke-width="3" fill="#fff"/>
<path d="M838,362 A3,3 0 0 0 843.5,362" stroke-width="1.0" fill="none" />
<path d="M899.7,297.8 L852.5,362.3" stroke-width="3.0" fill="none" stroke-dasharray="10,6.5"/>
<path d="M899.1,306.0 L851.3,371.4" stroke-width="1.2" fill="none" stroke-dasharray="11,3"/>
<path d="M908.2,307.7 L856.9,377.9" stroke-width="3.0" fill="none" stroke-dasharray="10,6.5"/>
<ellipse cx="904.8" cy="301.5" rx="4.6" ry="7" transform="rotate(-17 904.8 301.5)" stroke-width="2.6" fill="none"/>
<path d="M849.5,376 A4.5,4.5 0 0 0 858.5,376" stroke-width="2.6" fill="none" />
<path d="M858,384 C856,395 852,405 848.5,414" stroke-width="3.0" fill="none" stroke-dasharray="9,6"/>
<path d="M824.7,421.5 Q833,427 843,420.4" stroke-width="3.0" fill="none" />
<path d="M816,417 Q820,423 824,419" stroke-width="2.2" fill="none" />
<line x1="846" y1="276.5" x2="1000" y2="276.5" stroke-width="1.3"/>
<line x1="908" y1="295.5" x2="958.8" y2="295.5" stroke-width="1.3"/>
<line x1="948.5" y1="295.5" x2="948.5" y2="373.6" stroke-width="1.3"/>
<line x1="948.5" y1="438.6" x2="948.5" y2="530.5" stroke-width="1.3"/>
<polygon points="948.50,295.50 939.90,310.00 957.10,310.00" stroke="none" fill="#111"/>
<polygon points="948.50,530.50 939.90,516.00 957.10,516.00" stroke="none" fill="#111"/>
<g transform="translate(948.80,403.10) rotate(-90) translate(-22.40,-8)" stroke="#111" stroke-width="1.60" fill="none" stroke-linecap="butt" stroke-linejoin="miter"><g transform="translate(0.00,0)"><path d="M0.8,3.8 L3.4,0.8 L3.4,16"/></g><g transform="translate(12.90,0)"><path d="M8.6,16 L8.6,0.9 L0.8,12.8 L11.4,12.8"/></g><g transform="translate(33.20,0)"><path d="M8.6,16 L8.6,0.9 L0.8,12.8 L11.4,12.8"/></g></g>
<line x1="985.5" y1="276.5" x2="985.5" y2="371.6" stroke-width="1.3"/>
<line x1="985.5" y1="425.5" x2="985.5" y2="530.5" stroke-width="1.3"/>
<polygon points="985.50,276.50 976.90,291.00 994.10,291.00" stroke="none" fill="#111"/>
<polygon points="985.50,530.50 976.90,516.00 994.10,516.00" stroke="none" fill="#111"/>
<g transform="translate(986.25,397.15) rotate(-90) translate(-20.75,-8)" stroke="#111" stroke-width="1.60" fill="none" stroke-linecap="butt" stroke-linejoin="miter"><g transform="translate(0.00,0)"><path d="M0.8,3.8 L3.4,0.8 L3.4,16"/></g><g transform="translate(12.35,0)"><path d="M9.9,0.8 L3.2,0.8 L2.1,6.7 C2.9,6.2 4.0,5.9 5.1,5.9 C7.9,5.9 9.7,8.0 9.7,10.6 C9.7,13.2 7.7,15.2 5.0,15.2 C3.1,15.2 1.6,14.4 0.8,13.0"/></g><g transform="translate(31.00,0)"><path d="M9.9,0.8 L3.2,0.8 L2.1,6.7 C2.9,6.2 4.0,5.9 5.1,5.9 C7.9,5.9 9.7,8.0 9.7,10.6 C9.7,13.2 7.7,15.2 5.0,15.2 C3.1,15.2 1.6,14.4 0.8,13.0"/></g></g>
</svg></body></html>
